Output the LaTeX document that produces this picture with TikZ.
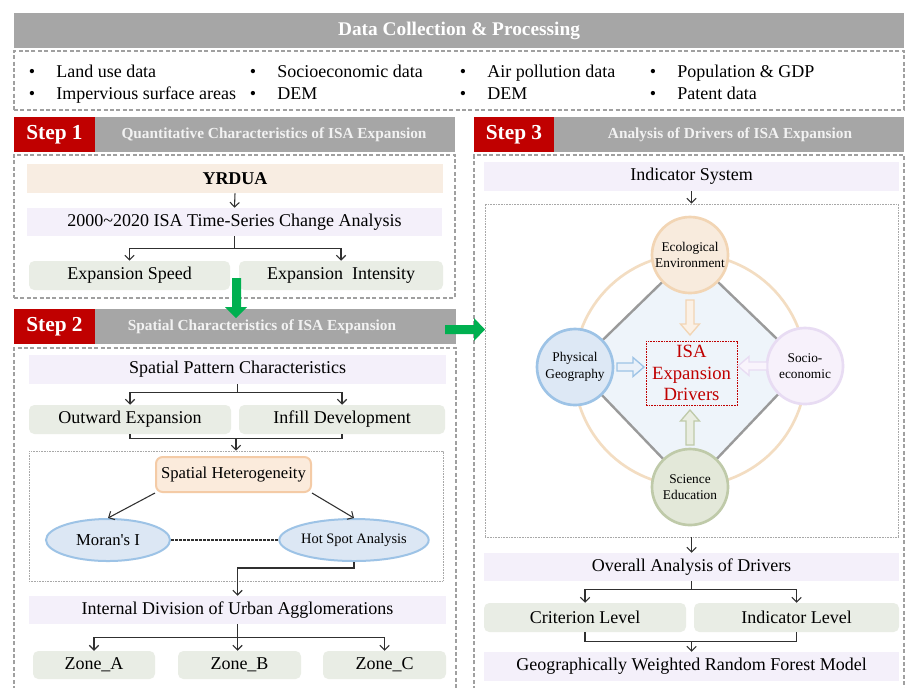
\documentclass[tikz,border=0pt]{standalone}
\usepackage{fontspec}
\setmainfont{Liberation Serif}
\usetikzlibrary{arrows.meta,shapes.geometric,calc}
\definecolor{hdrgray}{HTML}{A6A6A6}
\definecolor{stepred}{HTML}{C00000}
\definecolor{ttlc}{HTML}{F2F2F2}
\definecolor{dashc}{HTML}{A0A0A0}
\definecolor{dotc}{HTML}{A8A8A8}
\definecolor{arrc}{HTML}{303030}
\definecolor{beigc}{HTML}{F8EDE2}
\definecolor{lavc}{HTML}{F4F0FA}
\definecolor{grnc}{HTML}{E9EDE5}
\definecolor{shfill}{HTML}{FBEBDC}
\definecolor{shdraw}{HTML}{F4CBA6}
\definecolor{ellf}{HTML}{DCE7F4}
\definecolor{elld}{HTML}{9DC3E6}
\definecolor{ecof}{HTML}{F8EBDD}
\definecolor{ecod}{HTML}{F2D5B4}
\definecolor{phyf}{HTML}{DDE8F5}
\definecolor{phyd}{HTML}{9DC3E6}
\definecolor{socf}{HTML}{F7F1FB}
\definecolor{socd}{HTML}{E8DCF3}
\definecolor{scif}{HTML}{E3E8D9}
\definecolor{scid}{HTML}{BFCAA9}
\definecolor{ringc}{HTML}{F3DDC2}
\definecolor{diaf}{HTML}{EEF4FA}
\definecolor{diad}{HTML}{9A9A9A}
\definecolor{greenc}{HTML}{00B050}
\definecolor{ecoaf}{HTML}{FBF1E6}
\definecolor{phyaf}{HTML}{EAF1F9}
\definecolor{socaf}{HTML}{F9F4FC}
\definecolor{sciaf}{HTML}{E9EDE1}
\newcommand\mainsz{\fontsize{13.5}{16}\selectfont}
\begin{document}
\begin{tikzpicture}[x=0.75pt,y=-0.75pt,
 rect/.style n args={4}{at={({(#1+#3)/2},{(#2+#4)/2})},minimum width={(#3-#1)*0.75pt},minimum height={(#4-#2)*0.75pt}},
 box/.style={rectangle,inner sep=0pt,font=\mainsz},
 lavbox/.style={box,fill=lavc},
 beigebox/.style={box,fill=beigc},
 grnbox/.style={box,fill=grnc,rounded corners=4pt},
 dashbox/.style={draw=dashc,line width=0.8pt,dash pattern=on 3pt off 1.8pt},
 dotbox/.style={draw=dotc,line width=0.5pt,dash pattern=on 0.6pt off 0.6pt},
 arr/.style={draw=arrc,line width=0.8pt,-{Straight Barb[length=3.5pt,width=7pt]}},
 ln/.style={draw=arrc,line width=0.8pt},
 barbox/.style={rectangle,inner sep=0pt,fill=hdrgray},
 stepbox/.style={rectangle,inner sep=0pt,fill=stepred,text=white,font=\bfseries\fontsize{16}{18}\selectfont},
 steptitle/.style={text=ttlc,font=\bfseries\fontsize{11.5}{13}\selectfont,inner sep=0pt},
 bul/.style={font=\mainsz,anchor=base,inner sep=0pt},
 bultext/.style={font=\mainsz,anchor=base west,inner sep=0pt},
 circ/.style={circle,minimum size=57pt,line width=2pt,inner sep=0pt,align=center,font=\fontsize{10}{12.5}\selectfont},
 ell/.style={ellipse,minimum width=93pt,minimum height=31.5pt,fill=ellf,draw=elld,line width=1.5pt,inner sep=0pt},
 pics/barrow/.style={code={\path[pic actions] (0,-4) -- ({#1-11},-4) -- ({#1-11},-9.5) -- (#1,0) -- ({#1-11},9.5) -- ({#1-11},4) -- (0,4) -- cycle;}}
]
\fill[white] (0,0) rectangle (905,687);
\path[use as bounding box] (0,0) rectangle (905,687);

% header
\node[barbox,rect={14}{13}{904}{48},text=white,font=\bfseries\fontsize{14.5}{17}\selectfont] (hdr) {Data Collection \& Processing};
\node[rect={14}{51}{904}{110},dashbox,inner sep=0pt] (datab) {};
\node[bul] (b1) at (32,77) {•}; \node[bultext] (t1) at (56,77) {Land use data};
\node[bul] (b2) at (32,99) {•}; \node[bultext] (t2) at (56,99) {Impervious surface areas};
\node[bul] (b3) at (253,77) {•}; \node[bultext] (t3) at (277,77) {Socioeconomic data};
\node[bul] (b4) at (253,99) {•}; \node[bultext] (t4) at (277,99) {DEM};
\node[bul] (b5) at (463,77) {•}; \node[bultext] (t5) at (487,77) {Air pollution data};
\node[bul] (b6) at (463,99) {•}; \node[bultext] (t6) at (487,99) {DEM};
\node[bul] (b7) at (653,77) {•}; \node[bultext] (t7) at (677,77) {Population \& GDP};
\node[bul] (b8) at (653,99) {•}; \node[bultext] (t8) at (677,99) {Patent data};

% Step 1
\node[barbox,rect={14}{117}{455}{152}] (s1bar) {};
\node[stepbox,rect={14}{117}{95}{152}] (s1) {Step 1};
\node[steptitle] (s1t) at (274,134.5) {Quantitative Characteristics of ISA Expansion};
\node[dashbox,rect={14}{155}{455}{298},inner sep=0pt] (s1box) {};
\node[beigebox,rect={27}{164}{443}{193},font=\bfseries\fontsize{13.5}{16}\selectfont] (yrdua) {YRDUA};
\node[lavbox,rect={27}{208}{442}{236}] (ts) {2000\textasciitilde2020 ISA Time-Series Change Analysis};
\node[grnbox,rect={29}{261}{230}{290}] (speed) {Expansion Speed};
\node[grnbox,rect={239}{261}{443}{290}] (inten) {Expansion\ \ Intensity};
\draw[arr] (yrdua.south) -- (ts.north);
\draw[arr] (ts.south) -- ++(0,12) -| (speed.north);
\draw[arr] (ts.south) -- ++(0,12) -| (inten.north);

% Step 2
\node[barbox,rect={14}{309}{456}{344}] (s2bar) {};
\node[stepbox,rect={14}{309}{95}{344}] (s2) {Step 2};
\node[steptitle] (s2t) at (262,326.5) {Spatial Characteristics of ISA Expansion};
\draw[dashbox] (14,690) -- (14,348) -- (456,348) -- (456,690);
\fill[greenc] (232,278) -- (241,278) -- (241,307) -- (247,307) -- (236,318) -- (225,307) -- (232,307) -- cycle;

\node[lavbox,rect={29}{355}{446}{384}] (spc) {Spatial Pattern Characteristics};
\node[grnbox,rect={29}{405}{231}{434}] (outw) {Outward Expansion};
\node[grnbox,rect={239}{405}{445}{434}] (infill) {Infill Development};
\draw[arr] (spc.south) -- ++(0,8) -| (outw.north);
\draw[arr] (spc.south) -- ++(0,8) -| (infill.north);
\node[dotbox,rect={29}{451}{443}{581},inner sep=0pt] (hetbox) {};
\draw[ln] (outw.south) -- ++(0,4) -| (infill.south);
\draw[arr] ($(hetbox.north |- outw.south)+(0,4)$) -- (hetbox.north);
\node[box,rect={156}{457}{311}{492},fill=shfill,draw=shdraw,line width=1.5pt,rounded corners=5pt,font=\fontsize{12.5}{15}\selectfont] (sh) {Spatial Heterogeneity};
\node[ell,font=\fontsize{12.5}{15}\selectfont] (moran) at (108,540) {Moran\textquotesingle s I};
\node[ell,font=\fontsize{10.8}{13}\selectfont] (hot) at (354,540) {Hot Spot Analysis};
\draw[arr] (sh.south west) -- (moran.north);
\draw[arr] (sh.south east) -- (hot.north);
\draw[ln,dash pattern=on 2pt off 1pt] (moran.east) -- (hot.west);
\node[lavbox,rect={29}{596}{446}{624}] (idiv) {Internal Division of Urban Agglomerations};
\draw[arr] (hot.south) -- ++(0,6) -| (idiv.north);
\node[grnbox,rect={33}{651}{155}{679}] (za) {Zone\_A};
\node[grnbox,rect={178}{651}{301}{679}] (zb) {Zone\_B};
\node[grnbox,rect={323}{651}{446}{679}] (zc) {Zone\_C};
\draw[arr] (idiv.south) -- ++(0,13) -| (za.north);
\draw[arr] (idiv.south) -- (idiv.south |- zb.north);
\draw[arr] (idiv.south) -- ++(0,13) -| (zc.north);

% Step 3
\node[barbox,rect={474}{117}{904}{152}] (s3bar) {};
\node[stepbox,rect={474}{117}{554}{152}] (s3) {Step 3};
\node[steptitle] (s3t) at (730,134.5) {Analysis of Drivers of ISA Expansion};
\draw[dashbox] (474,690) -- (474,155) -- (904,155) -- (904,690);
\fill[greenc] (445,325) -- (474,325) -- (474,318) -- (485,329.5) -- (474,341) -- (474,334) -- (445,334) -- cycle;

\node[lavbox,rect={484}{162}{899}{191}] (ind) {Indicator System};
\node[dotbox,rect={485}{204}{898}{537},inner sep=0pt] (cbox) {};
\draw[arr] (ind.south) -- (cbox.north);

\coordinate (ceco) at (690,255);
\coordinate (cphy) at (575,367);
\coordinate (csoc) at (805,366);
\coordinate (csci) at (690,487);
\draw[ringc,line width=2pt] (690,370) circle[radius=87pt];
\draw[fill=diaf,draw=diad,line width=1.8pt] (ceco) -- (csoc) -- (csci) -- (cphy) -- cycle;
\node[circ,fill=ecof,draw=ecod] (eco) at (ceco) {Ecological\\Environment};
\node[circ,fill=phyf,draw=phyd] (phy) at (cphy) {Physical\\Geography};
\node[circ,fill=socf,draw=socd] (soc) at (csoc) {Socio-\\economic};
\node[circ,fill=scif,draw=scid] (sci) at (csci) {Science\\Education};
\node[box,rect={646}{341}{737}{405},draw=stepred,line width=0.6pt,dash pattern=on 1.2pt off 0.8pt,text=stepred,align=center,font=\fontsize{14}{16.3}\selectfont] (isa) {ISA\\Expansion\\Drivers};
\pic[draw=ecod,fill=ecoaf,line width=1pt,rotate=-90] (aeco) at (690,300) {barrow=35};
\pic[draw=phyd,fill=phyaf,line width=1pt] (aphy) at (617,367) {barrow=27};
\pic[draw=socd,fill=socaf,line width=1pt,rotate=180] (asoc) at (767,366) {barrow=29};
\pic[draw=scid,fill=sciaf,line width=1pt,rotate=90] (asci) at (690,445) {barrow=35};

\node[lavbox,rect={484}{553}{899}{581}] (oad) {Overall Analysis of Drivers};
\draw[arr] (cbox.south) -- (oad.north);
\node[grnbox,rect={484}{603}{686}{632}] (crit) {Criterion Level};
\node[grnbox,rect={694}{603}{899}{632}] (indl) {Indicator Level};
\draw[arr] (oad.south) -- ++(0,8) -| (crit.north);
\draw[arr] (oad.south) -- ++(0,8) -| (indl.north);
\node[lavbox,rect={484}{652}{899}{681}] (gwrf) {Geographically Weighted Random Forest Model};
\draw[ln] (crit.south) -- ++(0,9) -| (indl.south);
\draw[arr] ($(gwrf.north |- crit.south)+(0,9)$) -- (gwrf.north);
\end{tikzpicture}
\end{document}
